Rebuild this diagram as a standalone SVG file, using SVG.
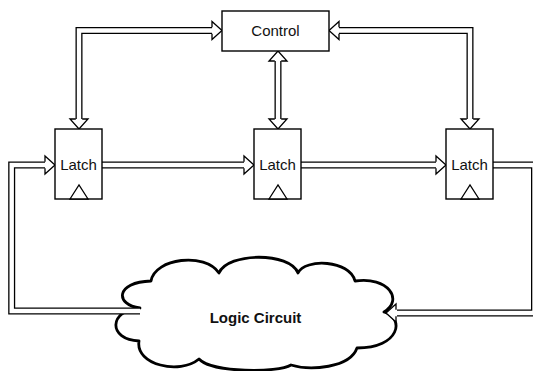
<svg xmlns="http://www.w3.org/2000/svg" xmlns:xlink="http://www.w3.org/1999/xlink" width="533" height="371" viewBox="0 0 533 371">
  <style>
    .box { fill: #fff; stroke: #000; stroke-width: 1.4; }
    .clk { fill: #fff; stroke: #000; stroke-width: 1.3; stroke-linejoin: miter; }
    .lbl { font-family: "Liberation Sans", Arial, sans-serif; font-size: 15px; fill: #111; text-anchor: middle; }
    .bold { font-weight: bold; }
    .cloud { fill: #fff; stroke: #000; stroke-width: 2.8; stroke-linejoin: round; }
    .bus-o { fill: none; stroke: #000; stroke-width: 7; stroke-linejoin: miter; stroke-linecap: butt; }
    .bus-i { fill: none; stroke: #fff; stroke-width: 4.4; stroke-linejoin: miter; stroke-linecap: butt; }
    .head { fill: #fff; stroke: #000; stroke-width: 1.3; stroke-linejoin: miter; }
  </style>
  <defs>
    <!-- hollow head of a double-line bus, tip at the origin, pointing +x -->
    <path id="ah" d="M-10,-3.2 L-10,-9 L0,0 L-10,9 L-10,3.2"/>
    <!-- bus centre lines -->
    <path id="b-ctl-l1" d="M79,121 L79,30.5 L214,30.5"/>
    <path id="b-ctl-l3" d="M470,121 L470,30.5 L337,30.5"/>
    <path id="b-ctl-l2" d="M278,59 L278,121"/>
    <path id="b-l1-l2" d="M102,165 L246,165"/>
    <path id="b-l2-l3" d="M301,165 L438,165"/>
    <path id="b-l3-lc" d="M493,165 L534.5,165 L534.5,313 L397,313"/>
    <path id="b-lc-l1" d="M140,311 L11.7,311 L11.7,165 L47,165"/>
  </defs>

  <!-- logic circuit cloud -->
  <g id="logic-circuit">
    <path class="cloud" d="M140,308
      C115,305 115,282 151,281
      C155,258 205,252 219,273
      C228,252 290,252 298,273
      C305,258 350,260 355,281
      C388,276 404,300 384,312
      C405,318 400,348 357,348
      C350,368 310,371 291,365
      C278,373 212,373 199,359
      C180,375 135,365 139,341
      C108,340 108,310 140,308 Z"/>
    <text class="lbl bold" x="255.5" y="322.5">Logic Circuit</text>
  </g>

  <!-- connectors: double-line buses -->
  <g id="connectors">
    <g class="bus-o">
      <use xlink:href="#b-ctl-l1"/>
      <use xlink:href="#b-ctl-l3"/>
      <use xlink:href="#b-ctl-l2"/>
      <use xlink:href="#b-l1-l2"/>
      <use xlink:href="#b-l2-l3"/>
      <use xlink:href="#b-l3-lc"/>
      <use xlink:href="#b-lc-l1"/>
    </g>
    <g class="bus-i">
      <use xlink:href="#b-ctl-l1"/>
      <use xlink:href="#b-ctl-l3"/>
      <use xlink:href="#b-ctl-l2"/>
      <use xlink:href="#b-l1-l2"/>
      <use xlink:href="#b-l2-l3"/>
      <use xlink:href="#b-l3-lc"/>
      <use xlink:href="#b-lc-l1"/>
    </g>
    <g class="head">
      <use xlink:href="#ah" transform="translate(222,30.5)"/>
      <use xlink:href="#ah" transform="translate(79,129) rotate(90)"/>
      <use xlink:href="#ah" transform="translate(329,30.5) rotate(180)"/>
      <use xlink:href="#ah" transform="translate(470,129) rotate(90)"/>
      <use xlink:href="#ah" transform="translate(278,51) rotate(-90)"/>
      <use xlink:href="#ah" transform="translate(278,129) rotate(90)"/>
      <use xlink:href="#ah" transform="translate(254,165)"/>
      <use xlink:href="#ah" transform="translate(446,165)"/>
      <use xlink:href="#ah" transform="translate(386,313) rotate(180)"/>
      <use xlink:href="#ah" transform="translate(55,165)"/>
    </g>
  </g>

  <g id="control">
    <rect class="box" x="222" y="11" width="107" height="40"/>
    <text class="lbl" x="275.5" y="35.5">Control</text>
  </g>

  <g id="latch-1">
    <rect class="box" x="55" y="129" width="47" height="70"/>
    <polygon class="clk" points="70,199 79,185 88,199"/>
    <text class="lbl" x="78.5" y="169.5">Latch</text>
  </g>

  <g id="latch-2">
    <rect class="box" x="254" y="129" width="47" height="70"/>
    <polygon class="clk" points="269,199 278,185 287,199"/>
    <text class="lbl" x="277.5" y="169.5">Latch</text>
  </g>

  <g id="latch-3">
    <rect class="box" x="446" y="129" width="47" height="70"/>
    <polygon class="clk" points="461,199 470,185 479,199"/>
    <text class="lbl" x="469.5" y="169.5">Latch</text>
  </g>
</svg>
